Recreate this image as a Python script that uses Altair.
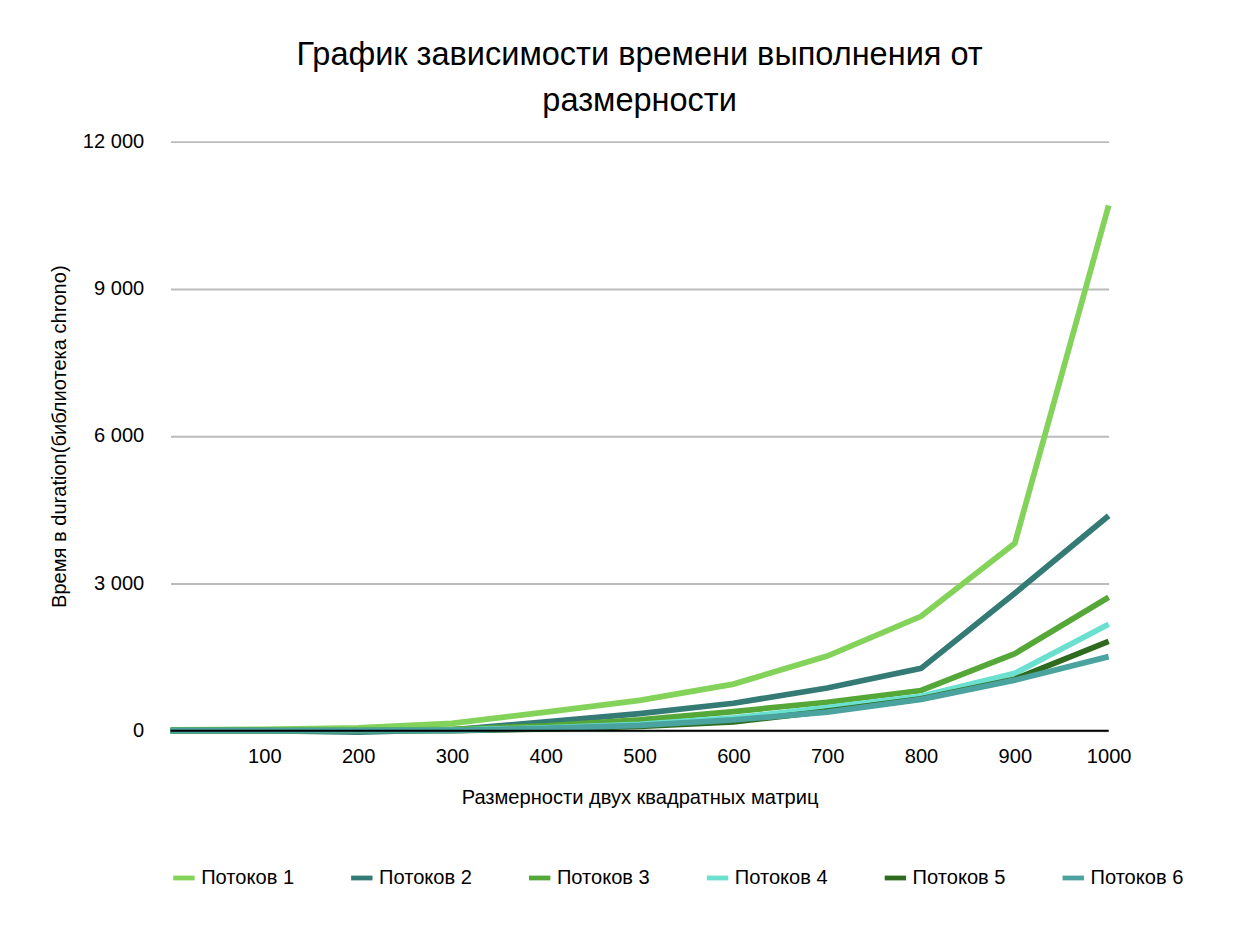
import altair as alt
import pandas as pd

sizes = [0, 100, 200, 300, 400, 500, 600, 700, 800, 900, 1000]
series_names = ["Потоков 1", "Потоков 2", "Потоков 3", "Потоков 4", "Потоков 5", "Потоков 6"]
threads_1 = [20, 30, 60, 150, 380, 620, 950, 1520, 2330, 3820, 10700]
threads_2 = [0, 0, -30, 20, 180, 350, 560, 870, 1270, 2800, 4380]
threads_3 = [0, 0, 0, 30, 100, 220, 390, 580, 820, 1570, 2720]
threads_4 = [0, 0, 0, 10, 60, 130, 260, 470, 700, 1170, 2170]
threads_5 = [0, 0, 0, 0, 40, 90, 180, 400, 650, 1050, 1820]
threads_6 = [0, 0, 0, 0, 50, 110, 220, 380, 640, 1030, 1510]
colors = ["#83d35a", "#337b74", "#55a838", "#6be0cf", "#2f6b1e", "#4aa39e"]

rows = []
for name, vals in zip(series_names, [threads_1, threads_2, threads_3, threads_4, threads_5, threads_6]):
    for s, v in zip(sizes, vals):
        rows.append({"size": s, "time": v, "series": name})
df = pd.DataFrame(rows)

font = "Liberation Sans"

lines = alt.Chart(df).mark_line(strokeWidth=6, strokeCap="butt").encode(
    x=alt.X("size:Q", scale=alt.Scale(domain=[0, 1000], nice=False),
            axis=alt.Axis(values=sizes[1:], format="d", grid=False, domain=False, ticks=False,
                          labelFontSize=21, labelPadding=16, title="Размерности двух квадратных матриц",
                          titleFontSize=21, titleFontWeight="normal", titlePadding=22, labelFlush=False)),
    y=alt.Y("time:Q", scale=alt.Scale(domain=[0, 12000], nice=False),
            axis=alt.Axis(values=[0, 3000, 6000, 9000, 12000], domain=False, ticks=False,
                          gridColor="#bbbbbb", gridWidth=2,
                          labelExpr="replace(format(datum.value, ','), ',', ' ')",
                          labelFontSize=21, labelPadding=28,
                          title="Время в duration(библиотека chrono)", titleFontSize=21,
                          titleFontWeight="normal", titlePadding=14)),
    color=alt.Color("series:N", scale=alt.Scale(domain=series_names, range=colors),
                    legend=alt.Legend(orient="bottom", title=None, direction="horizontal",
                                      symbolType="stroke", symbolStrokeWidth=5, symbolSize=500,
                                      labelFontSize=21, columnPadding=48, offset=60)),
)

zero = alt.Chart(pd.DataFrame({"y": [0]})).mark_rule(color="black", strokeWidth=2).encode(y="y:Q")

chart = alt.layer(lines, zero).properties(
    width=981, height=616,
    title=alt.TitleParams(["График зависимости времени выполнения от", "размерности"],
                          fontSize=34, fontWeight="normal", lineHeight=48, offset=14, anchor="middle"),
    padding={"left": 42, "top": 12, "right": 50, "bottom": 10},
).configure(font=font).configure_view(stroke=None)

chart.save("out.html", embed_options={"renderer": "svg", "actions": False})
